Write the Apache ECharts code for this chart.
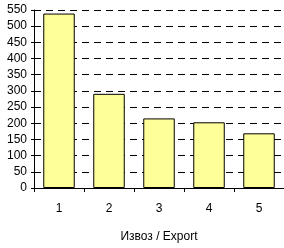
<!DOCTYPE html>
<html lang="en">
<head>
    <meta charset="UTF-8">
    <title>Export</title>
    <script src="https://cdn.jsdelivr.net/npm/echarts@6/dist/echarts.min.js"></script>
    <style>
        html, body { margin: 0; padding: 0; background: #fff; }
        #container { width: 284px; height: 248px; }
    </style>
</head>
<body>
    <div id="container"></div>
</body>
<script>
    var categories = ['1', '2', '3', '4', '5'];
    var values = [539, 291, 215, 203, 169];

    var myChart = echarts.init(document.getElementById('container'));
    var font = 'Liberation Sans, Arial, sans-serif';

    var option = {
        animation: false,
        grid: { left: 34, right: -3, top: 10, bottom: 54 },
        xAxis: {
            type: 'category',
            data: categories,
            name: 'Извоз / Export',
            nameLocation: 'middle',
            nameGap: 43,
            nameTextStyle: { color: '#000', fontSize: 12, fontFamily: font },
            axisLine: { lineStyle: { color: '#000', width: 1 } },
            axisTick: { show: true, length: 4, lineStyle: { color: '#000' } },
            axisLabel: { color: '#000', fontSize: 12, fontFamily: font, margin: 15 }
        },
        yAxis: {
            type: 'value',
            min: 0,
            max: 550,
            interval: 50,
            axisLine: { show: true, lineStyle: { color: '#000', width: 1 } },
            axisTick: { show: true, length: 3, lineStyle: { color: '#000' } },
            axisLabel: { color: '#000', fontSize: 12, fontFamily: font, margin: 7 },
            splitLine: { show: true, lineStyle: { color: '#000', type: [7, 5], width: 1 } }
        },
        series: [{
            type: 'bar',
            data: values,
            barWidth: '63%',
            itemStyle: { color: '#FFFF99', borderColor: '#000', borderWidth: 1 }
        }]
    };

    myChart.setOption(option);
</script>
</html>
